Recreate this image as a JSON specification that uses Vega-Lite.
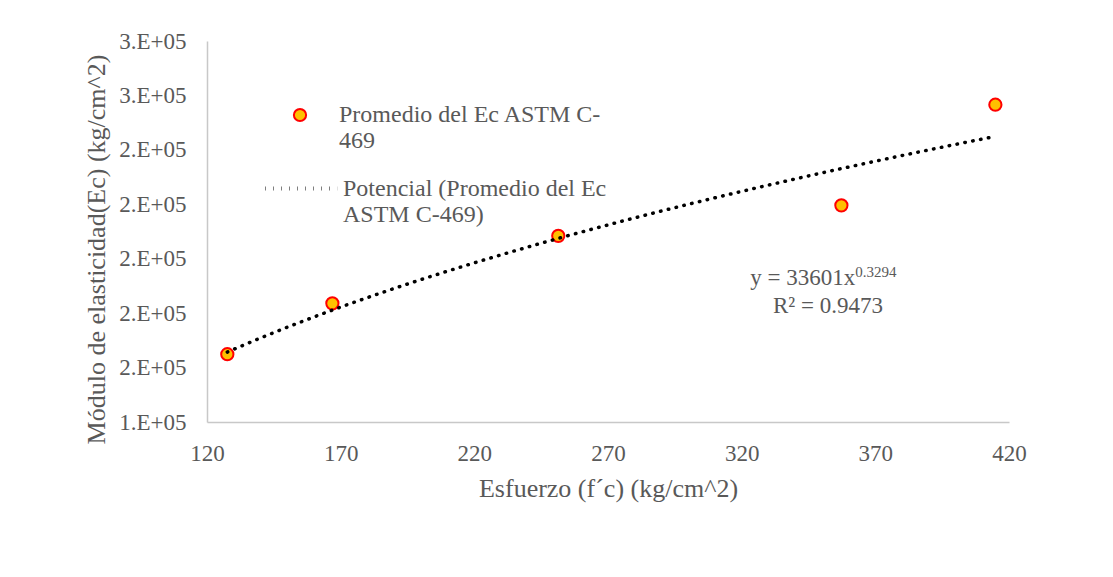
{
  "$schema": "https://vega.github.io/schema/vega-lite/v6.json",
  "width": 802,
  "height": 381,
  "autosize": "none",
  "padding": {"left": 207, "top": 41, "right": 104, "bottom": 155},
  "background": "white",
  "config": {
    "view": {"stroke": null},
    "font": "Liberation Serif",
    "axis": {"grid": false, "ticks": false, "domainColor": "#C8C8C8", "domainWidth": 1.5, "labelColor": "#595959", "titleColor": "#595959", "labelFont": "Liberation Serif", "titleFont": "Liberation Serif", "labelFontSize": 23, "titleFontSize": 26, "titleFontWeight": "normal", "labelFlush": false, "labelOverlap": false},
    "legend": {"labelFont": "Liberation Serif", "labelFontSize": 24, "labelColor": "#595959", "padding": 0}
  },
  "data": {
    "values": [
      {"x": 127.6, "y": 164900, "serie": "Promedio del Ec ASTM C-469", "fit": "Potencial (Promedio del Ec ASTM C-469)"},
      {"x": 166.9, "y": 183600, "serie": "Promedio del Ec ASTM C-469", "fit": "Potencial (Promedio del Ec ASTM C-469)"},
      {"x": 251.4, "y": 208400, "serie": "Promedio del Ec ASTM C-469", "fit": "Potencial (Promedio del Ec ASTM C-469)"},
      {"x": 357.3, "y": 219600, "serie": "Promedio del Ec ASTM C-469", "fit": "Potencial (Promedio del Ec ASTM C-469)"},
      {"x": 414.9, "y": 256600, "serie": "Promedio del Ec ASTM C-469", "fit": "Potencial (Promedio del Ec ASTM C-469)"}
    ]
  },
  "layer": [
    {
      "mark": {"type": "point", "filled": true, "size": 150, "stroke": "#FF0000", "strokeWidth": 2, "opacity": 1, "shape": "circle"},
      "encoding": {
        "x": {"field": "x", "type": "quantitative", "scale": {"domain": [120, 420], "nice": false, "zero": false},
          "axis": {"values": [120, 170, 220, 270, 320, 370, 420], "title": "Esfuerzo (f´c) (kg/cm^2)", "labelPadding": 20, "titleY": 74, "titleBaseline": "alphabetic"}},
        "y": {"field": "y", "type": "quantitative", "scale": {"domain": [140000, 280000], "nice": false, "zero": false},
          "axis": {"values": [140000, 160000, 180000, 200000, 220000, 240000, 260000, 280000], "labelExpr": "round(datum.value/100000) + '.E+05'", "labelPadding": 21, "title": "Módulo de elasticidad(Ec) (kg/cm^2)", "titleX": -111, "titleY": 208, "titleAngle": 270, "titleAlign": "center", "titleBaseline": "middle"}},
        "fill": {"field": "serie", "type": "nominal", "scale": {"range": ["#FFC000"]},
          "legend": {"title": null, "orient": "none", "legendX": 81, "legendY": 62, "symbolType": "circle", "symbolSize": 150, "symbolStrokeColor": "#FF0000", "symbolStrokeWidth": 2, "symbolFillColor": "#FFC000", "labelOffset": 27, "labelLimit": 400, "labelExpr": "['Promedio del Ec ASTM C-', '469']"}}
      }
    },
    {
      "transform": [{"regression": "y", "on": "x", "method": "pow", "groupby": ["fit"]}],
      "mark": {"type": "line", "color": "black", "strokeWidth": 3.5, "strokeCap": "round"},
      "encoding": {
        "x": {"field": "x", "type": "quantitative"},
        "y": {"field": "y", "type": "quantitative"},
        "strokeDash": {"field": "fit", "type": "nominal", "scale": {"range": [[0.5, 7.5]]},
          "legend": {"title": null, "orient": "none", "legendX": 56, "legendY": 109, "symbolType": "stroke", "symbolSize": 5200, "symbolStrokeColor": "black", "symbolStrokeWidth": 4, "symbolDash": [3.5, 4.5], "labelOffset": 3, "labelLimit": 400, "labelExpr": "['Potencial (Promedio del Ec', 'ASTM C-469)']"}}
      }
    },
    {
      "data": {"values": [{"label": "y = 33601x"}]},
      "mark": {"type": "text", "align": "right", "baseline": "alphabetic", "fontSize": 23, "color": "#595959", "font": "Liberation Serif"},
      "encoding": {"text": {"field": "label"}, "x": {"datum": 362.5, "type": "quantitative"}, "y": {"datum": 190350, "type": "quantitative"}}
    },
    {
      "data": {"values": [{"label": "0.3294"}]},
      "mark": {"type": "text", "align": "left", "baseline": "alphabetic", "fontSize": 15, "color": "#595959", "font": "Liberation Serif"},
      "encoding": {"text": {"field": "label"}, "x": {"datum": 362.5, "type": "quantitative"}, "y": {"datum": 193290, "type": "quantitative"}}
    },
    {
      "data": {"values": [{"label": "R² = 0.9473"}]},
      "mark": {"type": "text", "align": "center", "baseline": "alphabetic", "fontSize": 23, "color": "#595959", "font": "Liberation Serif"},
      "encoding": {"text": {"field": "label"}, "x": {"datum": 352.3, "type": "quantitative"}, "y": {"datum": 180060, "type": "quantitative"}}
    }
  ]
}
